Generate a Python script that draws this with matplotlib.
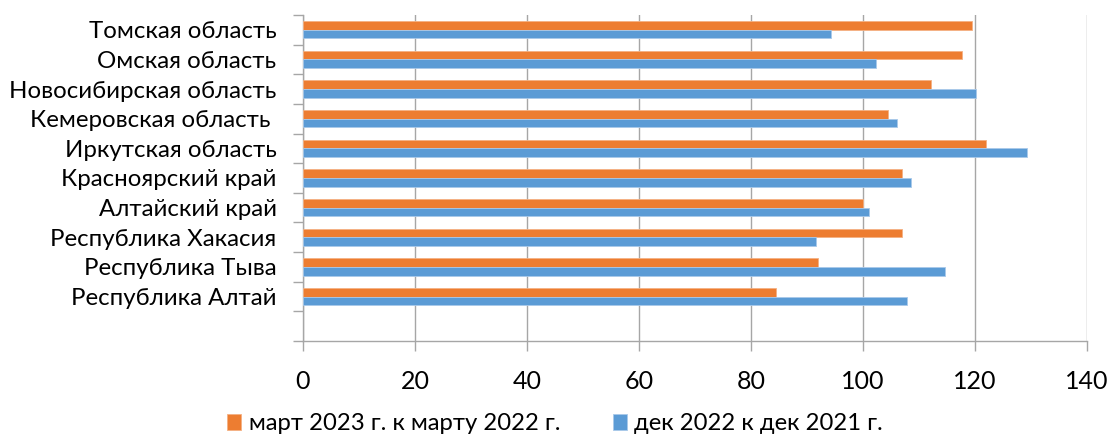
import matplotlib
matplotlib.use("Agg")
import matplotlib.pyplot as plt
import numpy as np

categories = ["Томская область", "Омская область", "Новосибирская область",
              "Кемеровская область ", "Иркутская область", "Красноярский край",
              "Алтайский край", "Республика Хакасия", "Республика Тыва",
              "Республика Алтай"]
march_2023 = [119.4, 117.7, 112.2, 104.5, 121.9, 106.9, 100.0, 106.9, 91.9, 84.5]
dec_2022 = [94.2, 102.3, 120.2, 106.0, 129.2, 108.6, 101.0, 91.6, 114.6, 107.8]
series_names = ["март 2023 г. к марту 2022 г.", "дек 2022 к дек 2021 г."]
x_ticks = [0, 20, 40, 60, 80, 100, 120, 140]

plt.rcParams['font.family'] = ['Lato', 'DejaVu Sans']

fig = plt.figure(figsize=(11.10, 4.37), dpi=100)
ax = fig.add_axes([303/1110, 1 - 341/437, (1087 - 303)/1110, (341 - 15)/437])

n = len(categories)
ypos = np.arange(n, 0, -1)
h = 0.29
ax.barh(ypos + h/2, march_2023, height=h, color='#ED7D31', label=series_names[0],
        edgecolor='#F4B183', linewidth=0.6, zorder=3)
ax.barh(ypos - h/2, dec_2022, height=h, color='#5B9BD5', label=series_names[1],
        edgecolor='#A9C9EA', linewidth=0.6, zorder=3)

ax.set_xlim(0, 140)
ax.set_ylim(-0.5, n + 0.5)
ax.set_xticks(x_ticks)
ax.set_xticklabels([str(t) for t in x_ticks], fontsize=18)
ax.set_yticks(ypos)
ax.set_yticklabels(categories, fontsize=17.3)
ax.set_yticks(np.arange(-0.5, n + 1, 1), minor=True)
ax.tick_params(axis='y', which='major', length=0, pad=19)
ax.tick_params(axis='y', which='minor', length=7, color='#a6a6a6', width=1)
ax.tick_params(axis='x', which='major', length=7, color='#a6a6a6', width=1, pad=14)

ax.grid(axis='x', color='#a6a6a6', linewidth=1, zorder=0)
ax.set_axisbelow(True)
for s in ['top', 'right']:
    ax.spines[s].set_visible(False)
for s in ['left', 'bottom']:
    ax.spines[s].set_color('#a6a6a6')
    ax.spines[s].set_linewidth(1)

fig.legend(loc='center', bbox_to_anchor=(0.5, 1 - 424/437), ncol=2, frameon=False,
           fontsize=17.2, handlelength=0.6, handleheight=0.6, handletextpad=0.3,
           columnspacing=2.2)

fig.savefig("out.png", dpi=100, facecolor='white')
